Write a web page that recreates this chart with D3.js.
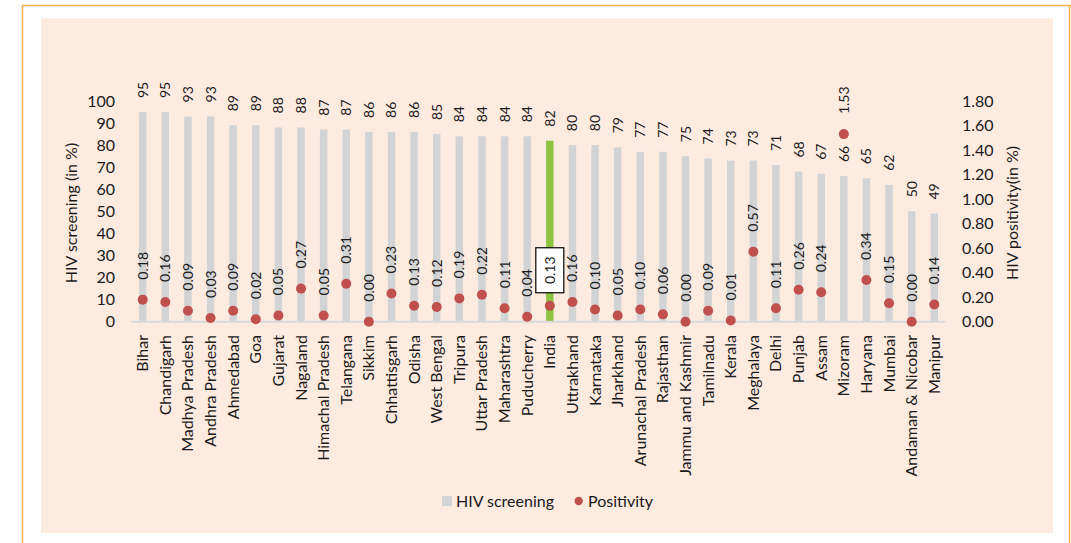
<!DOCTYPE html>
<html><head><meta charset="utf-8">
<script src="https://cdn.jsdelivr.net/npm/d3@7"></script>
<style>
html,body{margin:0;padding:0;background:#fff;}
svg text{font-family:Lato,"Open Sans",sans-serif;fill:#1a1a1a;}
</style></head>
<body><svg id="chart" width="1071" height="543"></svg>
<script>
const categories = ["Bihar","Chandigarh","Madhya Pradesh","Andhra Pradesh","Ahmedabad","Goa","Gujarat","Nagaland","Himachal Pradesh","Telangana","Sikkim","Chhattisgarh","Odisha","West Bengal","Tripura","Uttar Pradesh","Maharashtra","Puducherry","India","Uttrakhand","Karnataka","Jharkhand","Arunachal Pradesh","Rajasthan","Jammu and Kashmir","Tamilnadu","Kerala","Meghalaya","Delhi","Punjab","Assam","Mizoram","Haryana","Mumbai","Andaman & Nicobar","Manipur"];
const screening = [95,95,93,93,89,89,88,88,87,87,86,86,86,85,84,84,84,84,82,80,80,79,77,77,75,74,73,73,71,68,67,66,65,62,50,49];
const positivity = [0.18,0.16,0.09,0.03,0.09,0.02,0.05,0.27,0.05,0.31,0.00,0.23,0.13,0.12,0.19,0.22,0.11,0.04,0.13,0.16,0.10,0.05,0.10,0.06,0.00,0.09,0.01,0.57,0.11,0.26,0.24,1.53,0.34,0.15,0.00,0.14];
const leftTicks = [0,10,20,30,40,50,60,70,80,90,100];
const rightTicks = [0,0.2,0.4,0.6,0.8,1.0,1.2,1.4,1.6,1.8];
const highlight = "India";

const svg = d3.select("#chart");
// outer frame and panel
svg.append("line").attr("x1",22.5).attr("x2",22.5).attr("y1",5).attr("y2",543).attr("stroke","#f7b550").attr("stroke-width",1.5);
svg.append("line").attr("x1",22).attr("x2",1071).attr("y1",5.5).attr("y2",5.5).attr("stroke","#f7b550").attr("stroke-width",1.5);
svg.append("line").attr("x1",1069.5).attr("x2",1069.5).attr("y1",5).attr("y2",543).attr("stroke","#f7b550").attr("stroke-width",1.5);
svg.append("rect").attr("x",41).attr("y",18).attr("width",1012).attr("height",515).attr("fill","#feebe0");

const x = d3.scaleBand().domain(categories).range([131.4,945.6]).paddingInner(0.67).paddingOuter(0.335);
const yL = d3.scaleLinear().domain([0,100]).range([321.7,101]);
const yR = d3.scaleLinear().domain([0,1.8]).range([321.7,101]);

// left axis
const gl = svg.append("g").attr("transform","translate(122,0)")
  .call(d3.axisLeft(yL).tickValues(leftTicks).tickSize(0).tickPadding(7));
gl.select(".domain").remove();
gl.selectAll("text").attr("font-size",16).attr("font-family","Lato").attr("fill","#1a1a1a");
// right axis
const gr = svg.append("g").attr("transform","translate(955,0)")
  .call(d3.axisRight(yR).tickValues(rightTicks).tickSize(0).tickPadding(7).tickFormat(d3.format(".2f")));
gr.select(".domain").remove();
gr.selectAll("text").attr("font-size",16).attr("font-family","Lato").attr("fill","#1a1a1a");

// axis titles
svg.append("text").attr("transform","translate(77,213) rotate(-90)").attr("text-anchor","middle")
  .attr("font-size",16).text("HIV screening (in %)");
svg.append("text").attr("transform","translate(1018,213) rotate(-90)").attr("text-anchor","middle")
  .attr("font-size",16).text("HIV positivity(in %)");

// bars
svg.append("g").selectAll("rect").data(categories).join("rect")
  .attr("x",d=>x(d)).attr("width",x.bandwidth())
  .attr("y",(d,i)=>yL(screening[i])).attr("height",(d,i)=>yL(0)-yL(screening[i]))
  .attr("fill",d=>d===highlight?"#8cc43f":"#d1d3d5");

// baseline
svg.append("line").attr("x1",x.range()[0]).attr("x2",x.range()[1]).attr("y1",yL(0)).attr("y2",yL(0))
  .attr("stroke","#d9d9d9").attr("stroke-width",2);

// dots
svg.append("g").selectAll("circle").data(categories).join("circle")
  .attr("cx",d=>x(d)+x.bandwidth()/2).attr("cy",(d,i)=>yR(positivity[i])).attr("r",5)
  .attr("fill","#c0504d");

// bar value labels
svg.append("g").selectAll("text").data(categories).join("text")
  .attr("transform",(d,i)=>`translate(${x(d)+x.bandwidth()/2+5},${yL(screening[i])-14}) rotate(-90)`)
  .attr("font-size",14).text((d,i)=>d3.format("d")(screening[i]));

// positivity labels
const pl = svg.append("g");
categories.forEach((d,i)=>{
  const cx = x(d)+x.bandwidth()/2, cy = yR(positivity[i]);
  if (d===highlight){
    pl.append("rect").attr("x",cx-14).attr("y",cy-58).attr("width",28).attr("height",45)
      .attr("fill","#fff").attr("stroke","#000").attr("stroke-width",1.2);
    pl.append("text").attr("transform",`translate(${cx+5},${cy-35.5}) rotate(-90)`).attr("text-anchor","middle")
      .attr("font-size",14).text(d3.format(".2f")(positivity[i]));
  } else {
    pl.append("text").attr("transform",`translate(${cx+5},${cy-20}) rotate(-90)`)
      .attr("font-size",14).text(d3.format(".2f")(positivity[i]));
  }
});

// category labels
svg.append("g").selectAll("text").data(categories).join("text")
  .attr("transform",d=>`translate(${x(d)+x.bandwidth()/2+5.5},335) rotate(-90)`)
  .attr("text-anchor","end").attr("font-size",16).text(d=>d);

// legend
const lg = svg.append("g");
lg.append("rect").attr("x",442).attr("y",496).attr("width",10).attr("height",10).attr("fill","#d1d3d5");
lg.append("text").attr("x",456).attr("y",507).attr("font-size",16).text("HIV screening");
lg.append("circle").attr("cx",578.7).attr("cy",501).attr("r",4.2).attr("fill","#c0504d");
lg.append("text").attr("x",588).attr("y",507).attr("font-size",16).text("Positivity");
</script></body></html>
